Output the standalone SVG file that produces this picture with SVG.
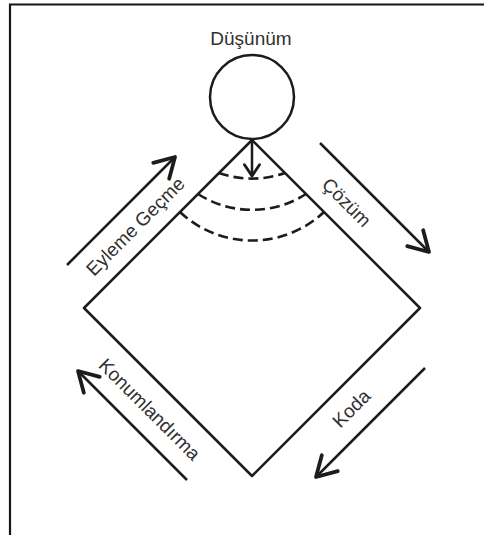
<svg xmlns="http://www.w3.org/2000/svg" width="484" height="535" viewBox="0 0 484 535">
  <style>
    .ln { fill: none; stroke: #1c1c1c; stroke-width: 2.5; stroke-linecap: butt; stroke-linejoin: round; }
    .dash { fill: none; stroke: #1c1c1c; stroke-width: 2.6; stroke-dasharray: 10 5; }
    .frame { fill: none; stroke: #151515; stroke-width: 2.2; }
    .lbl { font-family: "Liberation Sans", Arial, sans-serif; font-size: 19px; fill: #303030; text-anchor: middle; }
  </style>
  <defs>
    <marker id="head" markerUnits="userSpaceOnUse" markerWidth="30" markerHeight="30" refX="0" refY="0" viewBox="-16 -10 20 20" orient="auto" overflow="visible">
      <path d="M-13,-7.5 L0,0 L-13,7.5" fill="none" stroke="#1c1c1c" stroke-width="2.5" stroke-linejoin="round" stroke-linecap="round"/>
    </marker>
    <marker id="headSmall" markerUnits="userSpaceOnUse" markerWidth="20" markerHeight="20" refX="0" refY="0" viewBox="-12 -8 14 16" orient="auto" overflow="visible">
      <path d="M-9,-6 L0,0 L-9,6" fill="none" stroke="#1c1c1c" stroke-width="2.3" stroke-linejoin="round" stroke-linecap="round"/>
    </marker>
  </defs>
  <rect x="0" y="0" width="484" height="535" fill="#ffffff"/>
  <g id="frame">
    <path class="frame" d="M10,535 L10,4.5 L484,4.5"/>
  </g>
  <g id="node-dusunum">
    <circle class="ln" cx="252" cy="97" r="42"/>
    <text class="lbl" x="251" y="45">Düşünüm</text>
  </g>
  <g id="node-diamond">
    <path class="ln" d="M252,140 L420,308 L252,476 L84,308 Z"/>
  </g>
  <g id="node-waves">
    <path class="dash" d="M219,173 A100 100 0 0 0 285,173"/>
    <path class="dash" d="M198,194 A100 100 0 0 0 306,194"/>
    <path class="dash" d="M180,212 A105 105 0 0 0 324,212"/>
  </g>
  <g id="connectors">
    <path class="ln" d="M252,142 L252,176" marker-end="url(#headSmall)"/>
    <path class="ln" d="M67,265 L175,157" marker-end="url(#head)"/>
    <path class="ln" d="M320,143 L429,252" marker-end="url(#head)"/>
    <path class="ln" d="M425,368 L316,477" marker-end="url(#head)"/>
    <path class="ln" d="M187,480 L78,371" marker-end="url(#head)"/>
  </g>
  <g id="label-eyleme">
    <text class="lbl" transform="translate(140,231) rotate(-45)">Eyleme Geçme</text>
  </g>
  <g id="label-cozum">
    <text class="lbl" transform="translate(342,207) rotate(45)">Çözüm</text>
  </g>
  <g id="label-konum">
    <text class="lbl" transform="translate(145,414) rotate(45)">Konumlandırma</text>
  </g>
  <g id="label-koda">
    <text class="lbl" transform="translate(356,413) rotate(-45)">Koda</text>
  </g>
</svg>
